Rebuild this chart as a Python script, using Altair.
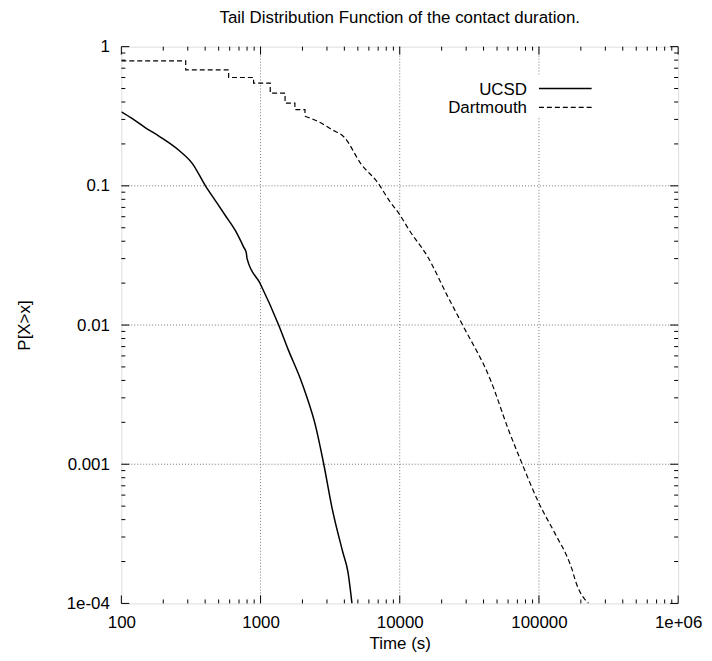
import altair as alt
import pandas as pd

# ---- data ----
ucsd_t = [100, 120, 150, 187, 259, 323, 402, 475, 560, 660, 756, 790, 800, 995,
          1349, 1585, 1917, 2136, 2463, 2846, 3256, 3900, 4240, 4536]
ucsd_p = [0.34, 0.304, 0.26, 0.227, 0.18, 0.145, 0.1, 0.078, 0.061, 0.0476, 0.0363,
          0.033, 0.030, 0.0198, 0.01, 0.0066, 0.0042, 0.0031, 0.00195, 0.001,
          0.00049, 0.000233, 0.000169, 0.0001]

# stair part of the Dartmouth curve
dart_step_t = [100, 290, 290, 590, 590, 891, 891, 1174, 1174, 1500, 1500, 1765, 1765,
               2085, 2085]
dart_step_p = [0.79, 0.79, 0.68, 0.68, 0.60, 0.60, 0.547, 0.547, 0.464, 0.464, 0.393,
               0.393, 0.353, 0.353, 0.316]
# smooth part of the Dartmouth curve
dart_t = [2085, 2586, 3226, 4018, 5260, 6970, 8430, 10000, 11700, 15850,
          22000, 28300, 45000, 60000, 75900, 99500, 130000, 167000, 174000,
          181000, 227000]
dart_p = [0.316, 0.29, 0.255, 0.222, 0.144, 0.105, 0.078,
          0.062, 0.048, 0.031, 0.0162, 0.01, 0.004, 0.0018, 0.001, 0.00053,
          0.00032, 0.000193, 0.000172, 0.00015, 0.0001]

x_major = [100, 1000, 10000, 100000, 1000000]
x_labels = ["100", "1000", "10000", "100000", "1e+06"]
y_major = [1, 0.1, 0.01, 0.001, 0.0001]
y_labels = ["1", "0.1", "0.01", "0.001", "1e-04"]
x_minor = [m * 10 ** e for e in range(2, 6) for m in range(2, 10)]
y_minor = [m * 10.0 ** e for e in range(-4, 0) for m in range(2, 10)]
x_grid = [1000, 10000, 100000]
y_grid = [0.1, 0.01, 0.001]

FONT = "Liberation Sans"
FS = 17
W, H = 560, 560

xs = alt.Scale(type="log", domain=[100, 1000000], nice=False)
ys = alt.Scale(type="log", domain=[0.0001, 1], nice=False)


def label_expr(vals, labs):
    expr = "''"
    for v, l in reversed(list(zip(vals, labs))):
        expr = f"datum.value == {v} ? '{l}' : ({expr})"
    return expr


x_axis = alt.Axis(values=x_major, labelExpr=label_expr(x_major, x_labels),
                  title="Time (s)", ticks=False, tickSize=0, domain=False, grid=False,
                  labelFont=FONT, labelFontSize=FS, labelColor="black",
                  labelPadding=11, labelFlush=False, labelOverlap=False,
                  titleFont=FONT, titleFontSize=FS, titleFontWeight="normal",
                  titleColor="black", titleX=280, titleY=40, titleBaseline="middle",
                  titleAnchor="middle")
y_axis = alt.Axis(values=y_major, labelExpr=label_expr(y_major, y_labels),
                  title="P[X>x]", ticks=False, tickSize=0, domain=False, grid=False,
                  labelFont=FONT, labelFontSize=FS, labelColor="black",
                  labelPadding=12, labelFlush=False, labelOverlap=False,
                  titleFont=FONT, titleFontSize=FS, titleFontWeight="normal",
                  titleColor="black", titleX=-97, titleY=280, titleAngle=270,
                  titleBaseline="middle", titleAlign="center")


def X(f):
    return alt.X(f, scale=xs, axis=x_axis, title="Time (s)")


def Y(f):
    return alt.Y(f, scale=ys, axis=y_axis, title="P[X>x]")


# grid
gx = alt.Chart(pd.DataFrame({"v": x_grid})).mark_rule(
    color="#777", strokeDash=[1, 2], strokeWidth=1).encode(x=X("v:Q"))
gy = alt.Chart(pd.DataFrame({"v": y_grid})).mark_rule(
    color="#777", strokeDash=[1, 2], strokeWidth=1).encode(y=Y("v:Q"))

# legend background
leg_bg = alt.Chart(pd.DataFrame({"a": [0]})).mark_rect(color="white").encode(
    x=alt.value(315), x2=alt.value(480), y=alt.value(28), y2=alt.value(70))

ucsd = pd.DataFrame({"t": ucsd_t, "p": ucsd_p})
dstep = pd.DataFrame({"t": dart_step_t, "p": dart_step_p, "i": range(len(dart_step_t))})
dsmooth = pd.DataFrame({"t": dart_t, "p": dart_p})

line_u = alt.Chart(ucsd).mark_line(color="black", strokeWidth=1.5, clip=True,
                                   interpolate="monotone").encode(
    x=X("t:Q"), y=Y("p:Q"))
line_ds = alt.Chart(dstep).mark_line(color="black", strokeWidth=1.2, strokeDash=[5, 3],
                                     clip=True).encode(
    x=X("t:Q"), y=Y("p:Q"), order="i:Q")
line_dm = alt.Chart(dsmooth).mark_line(color="black", strokeWidth=1.2, strokeDash=[5, 3],
                                       clip=True, interpolate="monotone").encode(
    x=X("t:Q"), y=Y("p:Q"))


# inward ticks (gnuplot style, mirrored)
def xticks(vals, length):
    d = pd.DataFrame({"v": vals})
    top = alt.Chart(d).mark_rule(color="black").encode(
        x=X("v:Q"), y=alt.value(0), y2=alt.value(length))
    bot = alt.Chart(d).mark_rule(color="black").encode(
        x=X("v:Q"), y=alt.value(H), y2=alt.value(H - length))
    return [top, bot]


def yticks(vals, length):
    d = pd.DataFrame({"v": vals})
    left = alt.Chart(d).mark_rule(color="black").encode(
        y=Y("v:Q"), x=alt.value(0), x2=alt.value(length))
    right = alt.Chart(d).mark_rule(color="black").encode(
        y=Y("v:Q"), x=alt.value(W), x2=alt.value(W - length))
    return [left, right]


ticks = xticks(x_major, 8) + xticks(x_minor, 4) + yticks(y_major, 8) + yticks(y_minor, 4)

# legend
leg_names = ["UCSD", "Dartmouth"]
leg_u_txt = alt.Chart(pd.DataFrame({"n": [leg_names[0]]})).mark_text(
    align="right", baseline="alphabetic", font=FONT, fontSize=FS, color="black").encode(
    text="n:N", x=alt.value(408), y=alt.value(48.5))
leg_d_txt = alt.Chart(pd.DataFrame({"n": [leg_names[1]]})).mark_text(
    align="right", baseline="alphabetic", font=FONT, fontSize=FS, color="black").encode(
    text="n:N", x=alt.value(408), y=alt.value(67))
leg_u_line = alt.Chart(pd.DataFrame({"n": [leg_names[0]]})).mark_rule(
    color="black", strokeWidth=1.5).encode(x=alt.value(420), x2=alt.value(473),
                                           y=alt.value(42))
leg_d_line = alt.Chart(pd.DataFrame({"n": [leg_names[1]]})).mark_rule(
    color="black", strokeWidth=1.2, strokeDash=[5, 3]).encode(
    x=alt.value(420), x2=alt.value(473), y=alt.value(61))

chart = alt.layer(gx, gy, leg_bg, line_u, line_ds, line_dm, *ticks,
                  leg_u_txt, leg_d_txt, leg_u_line, leg_d_line).properties(
    width=W, height=H,
    autosize=alt.AutoSizeParams(type="none"),
    padding={"left": 114, "top": 37, "right": 26, "bottom": 48},
    title=alt.TitleParams("Tail Distribution Function of the contact duration.",
                          font=FONT, fontSize=FS, fontWeight="normal", color="black",
                          anchor="middle", baseline="alphabetic", offset=8, dy=10),
).configure_view(stroke="black", strokeWidth=1.5).configure(background="white")

chart.save("out.html", embed_options={"renderer": "svg", "actions": False})
